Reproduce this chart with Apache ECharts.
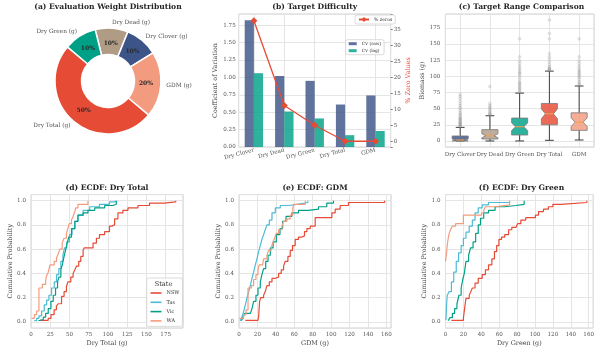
<!DOCTYPE html>
<html>
<head>
<meta charset="utf-8">
<script src="https://cdn.jsdelivr.net/npm/echarts@6/dist/echarts.min.js"></script>
<style>
  html, body { margin: 0; padding: 0; background: #ffffff; }
  #chart { width: 597px; height: 354px; }
</style>
</head>
<body>
<div id="chart"></div>
<script>
const FONT = 'DejaVu Serif';

// ---------- (a) evaluation weights (clockwise from the top) ----------
const weightTargets = ['Dry Dead (g)', 'Dry Clover (g)', 'GDM (g)', 'Dry Total (g)', 'Dry Green (g)'];
const weightValues = [10, 10, 20, 50, 10];
const weightColors = ['#B09C85', '#3C5488', '#F39B7F', '#E64B35', '#00A087'];

// ---------- (b) target difficulty ----------
const targetNames = ['Dry Clover', 'Dry Dead', 'Dry Green', 'Dry Total', 'GDM'];
const cvRaw = [1.82, 1.02, 0.95, 0.61, 0.74];
const cvLog = [1.06, 0.51, 0.41, 0.17, 0.23];
const pctZeros = [37.7, 11.2, 5.0, 0.0, 0.0];

// ---------- (c) target ranges (notched box summaries) ----------
const boxColors = ['#3C5488', '#B09C85', '#00A087', '#E64B35', '#F39B7F'];
const whiskerLow = [0, 0, 0, 1, 1.5];
const quartile1 = [0, 3, 9.2, 25, 16.4];
const medians = [1.5, 8, 22, 42, 29];
const quartile3 = [7.7, 17.5, 35.4, 58, 43.5];
const whiskerHigh = [21, 39, 74, 108, 85];
const notchHalf = [1.5, 3, 5.8, 7.6, 6.8];
const outClover = [22, 23, 24, 25, 26, 27, 28, 29, 30, 31, 33, 34, 35, 36, 38, 40, 42, 44, 47, 50, 52, 55, 58, 62, 66, 69, 72];
const outDead = [40, 41, 42, 43, 45, 47, 49, 51, 53, 55, 58, 84];
const outGreen = [76, 78, 80, 82, 84, 86, 88, 90, 92, 96, 100, 103, 105, 107, 110, 113, 116, 120, 124, 130, 158];
const outTotal = [109, 110, 111, 112, 113, 115, 118, 122, 126, 130, 135, 158, 166, 187];
const outGdm = [86, 88, 90, 92, 95, 98, 100, 102, 104, 106, 108, 110, 113, 116, 120, 124, 130, 158];

// ---------- (d-f) ECDF step points per state: [value, cumulative probability] ----------
const stateNames = ['NSW', 'Tas', 'Vic', 'WA'];
const stateColors = ['#E64B35', '#4DBBD5', '#00A087', '#F39B7F'];

const totalNSW = [[11.6,0.013],[22.4,0.03],[26,0.06],[30,0.1],[33,0.13],[35.3,0.15],[39.7,0.21],[43,0.25],[46,0.29],[48,0.33],[51.7,0.37],[54.7,0.4],[57,0.43],[59,0.46],[62,0.5],[64.7,0.54],[67.7,0.59],[69,0.61],[80.6,0.65],[85,0.69],[89,0.72],[95.7,0.745],[102,0.79],[105,0.8],[108.6,0.85],[113,0.9],[119.4,0.92],[126,0.94],[139,0.96],[154,0.98],[173,0.99],[188,1.0]];
const totalTas = [[4.3,0.01],[7.3,0.03],[10.3,0.05],[13.8,0.09],[17.2,0.14],[20.3,0.18],[23.3,0.22],[26.7,0.28],[30.2,0.33],[33.2,0.39],[36.2,0.44],[38.8,0.5],[41.5,0.55],[43.5,0.61],[46.5,0.66],[50,0.72],[53.4,0.77],[57,0.83],[61,0.88],[67.7,0.92],[76.3,0.95],[89,0.97],[102,0.99],[109.5,1.0]];
const totalVic = [[9.5,0.01],[11.6,0.02],[16,0.04],[19,0.07],[22.4,0.11],[25.9,0.17],[28.9,0.22],[31.9,0.28],[34.5,0.33],[36.2,0.37],[38.8,0.43],[41,0.48],[43,0.54],[44.8,0.59],[47,0.65],[49,0.7],[52.6,0.77],[57,0.83],[61,0.88],[67.7,0.9],[74,0.92],[82.8,0.94],[95.7,0.96],[106.5,0.97],[110.8,1.0]];
const totalWA = [[0.9,0.03],[4.3,0.06],[7.3,0.09],[10.3,0.28],[14.7,0.31],[19,0.34],[20.3,0.38],[22.4,0.41],[24.6,0.47],[30.2,0.5],[33.2,0.53],[35.3,0.56],[37.5,0.6],[40.5,0.65],[43,0.69],[46,0.73],[48.3,0.78],[49.6,0.81],[52.6,0.84],[54.7,0.87],[57,0.91],[58,0.94],[61,0.97],[74,1.0]];

const gdmNSW = [[6.9,0.013],[20.6,0.025],[21.3,0.045],[22.4,0.17],[23.5,0.2],[26.7,0.22],[28.5,0.25],[30.3,0.3],[32.9,0.33],[35.8,0.36],[39.4,0.37],[43,0.4],[45.9,0.43],[48.4,0.46],[50.2,0.5],[53.1,0.54],[55.6,0.59],[58.1,0.63],[61,0.68],[64.6,0.7],[68.3,0.71],[71.1,0.745],[73.7,0.77],[77.3,0.79],[82.7,0.86],[100.8,0.9],[104.4,0.93],[109.8,0.96],[118.8,0.985],[158,1.0]];
const gdmTas = [[1.4,0.01],[3.2,0.04],[5,0.085],[6.9,0.14],[8.7,0.2],[10.5,0.25],[12.3,0.3],[14.1,0.36],[15.9,0.41],[17.7,0.47],[19.5,0.52],[21.3,0.58],[23.1,0.63],[24.9,0.68],[26.7,0.72],[28.5,0.76],[30.3,0.8],[32.9,0.84],[35.8,0.9],[39.4,0.94],[44.8,0.96],[53.8,0.97],[62.8,0.985],[74.8,1.0]];
const gdmVic = [[2.5,0.01],[4,0.03],[6.1,0.07],[12.3,0.085],[14.1,0.11],[15.9,0.17],[18.4,0.22],[20.6,0.28],[23.1,0.33],[24.9,0.39],[26.7,0.44],[29,0.5],[31.5,0.55],[34,0.61],[37,0.66],[40.5,0.72],[44.5,0.77],[47.3,0.83],[51,0.87],[57.4,0.9],[64.6,0.92],[75.5,0.93],[86.3,0.95],[95.3,0.98],[102.6,1.0]];
const gdmWA = [[0.4,0.03],[5,0.06],[7.6,0.1],[9.8,0.28],[13.4,0.3],[15.9,0.35],[18.4,0.39],[20.6,0.43],[22,0.47],[25.6,0.48],[26.7,0.52],[30.3,0.55],[32.1,0.59],[35,0.61],[36.5,0.65],[38.6,0.69],[40.4,0.73],[43,0.76],[46.6,0.79],[48.4,0.83],[52,0.85],[55.6,0.88],[58.5,0.94],[59.2,0.97],[72,1.0]];

const greenNSW = [[6.6,0.013],[20,0.03],[21.5,0.12],[22.9,0.195],[26.5,0.22],[28.3,0.25],[30,0.28],[33,0.32],[36.6,0.36],[41,0.39],[44.6,0.43],[48.1,0.47],[51.8,0.52],[54.7,0.58],[57.2,0.63],[59.7,0.68],[62.6,0.7],[66.2,0.72],[70.5,0.76],[74.1,0.78],[78.8,0.79],[80.6,0.81],[84.2,0.84],[89.7,0.86],[100.5,0.88],[104,0.91],[109.5,0.93],[115,0.95],[120,0.97],[129.3,0.985],[158,1.0]];
const greenTas = [[0.5,0.015],[1.2,0.14],[1.9,0.22],[4.1,0.25],[6.6,0.33],[9.2,0.41],[12,0.5],[14.6,0.57],[17.5,0.63],[20,0.69],[22.9,0.74],[26.5,0.79],[30,0.84],[33,0.9],[36.6,0.94],[41,0.965],[48,0.985],[71.6,1.0]];
const greenVic = [[3,0.01],[4.8,0.035],[7.7,0.07],[10.2,0.11],[12.8,0.15],[15,0.22],[17.5,0.28],[19.3,0.35],[21,0.4],[22.9,0.5],[25.8,0.55],[28,0.61],[30.8,0.66],[33.7,0.73],[36.6,0.8],[39.1,0.855],[42.7,0.9],[48.1,0.92],[55.4,0.95],[66.2,0.96],[78.8,0.97],[87.9,1.0]];
const greenWA = [[0,0.5],[1.2,0.57],[1.9,0.63],[3,0.69],[4.1,0.73],[5.6,0.76],[7.7,0.79],[11.3,0.81],[20,0.88],[40.2,0.9],[42.7,0.92],[44.6,0.95],[55.4,0.965],[71.6,1.0]];

const ecdfPanels = [
  { grid: 2, series: [totalNSW, totalTas, totalVic, totalWA] },
  { grid: 3, series: [gdmNSW, gdmTas, gdmVic, gdmWA] },
  { grid: 4, series: [greenNSW, greenTas, greenVic, greenWA] }
];

// ---------- shared styles ----------
const tickText = { fontFamily: FONT, fontSize: 5.6, color: '#555' };
const nameText = { fontFamily: FONT, fontSize: 6.4, color: '#444' };
const gridLines = { show: true, lineStyle: { color: '#e2e2e2', width: 0.9 } };
const frame = { show: true, borderColor: '#d0d0d0', borderWidth: 1, backgroundColor: '#ffffff' };

function stepLabel(step, digits) {
  return v => Math.abs(v / step - Math.round(v / step)) < 1e-6 ? v.toFixed(digits) : '';
}
function categoryLabel(v) {
  const i = Math.round(v);
  return Math.abs(v - i) < 1e-6 && targetNames[i] ? targetNames[i] : '';
}

function title(text, x, y) {
  return {
    text, left: x, top: y, textAlign: 'center', padding: 0,
    textStyle: { fontFamily: FONT, fontSize: 7.6, fontWeight: 'bold', color: '#262626' }
  };
}

// ---------- axes ----------
const xAxes = [
  { gridIndex: 0, type: 'value', min: -0.5, max: 4.5, minInterval: 1, maxInterval: 1,
    axisLine: { show: false }, axisTick: { show: false }, splitLine: gridLines,
    axisLabel: Object.assign({ formatter: categoryLabel, rotate: 15, margin: 3 }, tickText) },
  { gridIndex: 1, type: 'value', min: -0.5, max: 4.5, minInterval: 1, maxInterval: 1,
    axisLine: { show: false }, axisTick: { show: false }, splitLine: gridLines,
    axisLabel: Object.assign({ formatter: categoryLabel, margin: 5 }, tickText) },
  { gridIndex: 2, type: 'value', min: 0, max: 197.5, interval: 25,
    axisLine: { show: false }, axisTick: { show: false }, splitLine: gridLines,
    axisLabel: Object.assign({ formatter: stepLabel(25, 0), margin: 4 }, tickText),
    name: 'Dry Total (g)', nameLocation: 'middle', nameGap: 12, nameTextStyle: nameText },
  { gridIndex: 3, type: 'value', min: 0, max: 165, interval: 20,
    axisLine: { show: false }, axisTick: { show: false }, splitLine: gridLines,
    axisLabel: Object.assign({ formatter: stepLabel(20, 0), margin: 4 }, tickText),
    name: 'GDM (g)', nameLocation: 'middle', nameGap: 12, nameTextStyle: nameText },
  { gridIndex: 4, type: 'value', min: 0, max: 165, interval: 20,
    axisLine: { show: false }, axisTick: { show: false }, splitLine: gridLines,
    axisLabel: Object.assign({ formatter: stepLabel(20, 0), margin: 4 }, tickText),
    name: 'Dry Green (g)', nameLocation: 'middle', nameGap: 12, nameTextStyle: nameText }
];

function ecdfY(gridIndex, gap) {
  return { gridIndex, type: 'value', min: -0.05, max: 1.05, minInterval: 0.2, maxInterval: 0.2,
    axisLine: { show: false }, axisTick: { show: false }, splitLine: gridLines,
    axisLabel: Object.assign({ formatter: stepLabel(0.2, 1), margin: 5 }, tickText),
    name: 'Cumulative Probability', nameLocation: 'middle', nameRotate: 90, nameGap: gap, nameTextStyle: nameText };
}

const yAxes = [
  { gridIndex: 0, type: 'value', min: 0, max: 1.91, interval: 0.25,
    axisLine: { show: false }, axisTick: { show: false }, splitLine: gridLines,
    axisLabel: Object.assign({ formatter: stepLabel(0.25, 2), margin: 3 }, tickText),
    name: 'Coefficient of Variation', nameLocation: 'middle', nameRotate: 90, nameGap: 20, nameTextStyle: nameText },
  { gridIndex: 0, type: 'value', position: 'right', min: -1.8, max: 39.8, minInterval: 5, maxInterval: 5,
    axisLine: { show: false }, axisTick: { show: true, length: 2, lineStyle: { color: '#555', width: 0.8 } },
    splitLine: { show: false },
    axisLabel: Object.assign({ formatter: stepLabel(5, 0), margin: 3 }, tickText),
    name: '% Zero Values', nameLocation: 'middle', nameRotate: 90, nameGap: 15,
    nameTextStyle: Object.assign({}, nameText, { color: '#E64B35' }) },
  { gridIndex: 1, type: 'value', min: -9.35, max: 196.35, minInterval: 25, maxInterval: 25,
    axisLine: { show: false }, axisTick: { show: false }, splitLine: gridLines,
    axisLabel: Object.assign({ formatter: stepLabel(25, 0), margin: 5 }, tickText),
    name: 'Biomass (g)', nameLocation: 'middle', nameRotate: 90, nameGap: 18, nameTextStyle: nameText },
  ecdfY(2, 16),
  ecdfY(3, 17),
  ecdfY(4, 17)
];

// ---------- series ----------
const series = [];

// (a) donut and its percentage labels
series.push({
  type: 'pie', center: [108, 81], radius: [26.5, 53], startAngle: 104, clockwise: true,
  avoidLabelOverlap: false, silent: true,
  itemStyle: { borderColor: '#ffffff', borderWidth: 1.5 },
  label: { show: true, position: 'outside', formatter: '{b}', distanceToLabelLine: 0,
           fontFamily: FONT, fontSize: 5.8, color: '#555' },
  labelLine: { show: false, length: 5.5, length2: 0 },
  data: weightTargets.map((n, i) => ({ name: n, value: weightValues[i], itemStyle: { color: weightColors[i] } }))
});
series.push({
  type: 'pie', center: [108, 81], radius: [17, 53], startAngle: 104, clockwise: true,
  avoidLabelOverlap: false, silent: true,
  itemStyle: { color: 'rgba(0,0,0,0)', borderWidth: 0 },
  label: { show: true, position: 'inside', formatter: p => Math.round(p.percent) + '%',
           fontFamily: FONT, fontSize: 6, fontWeight: 'bold', color: '#2a2a2a' },
  labelLine: { show: false },
  data: weightTargets.map((n, i) => ({ name: n + ' pct', value: weightValues[i] }))
});

// (b) CV bars and zero-share line
series.push({
  type: 'bar', name: 'CV (raw)', xAxisIndex: 0, yAxisIndex: 0, barWidth: 9.2, barGap: '0%',
  itemStyle: { color: 'rgba(60,84,136,0.82)' },
  data: cvRaw.map((v, i) => [i, v])
});
series.push({
  type: 'bar', name: 'CV (log)', xAxisIndex: 0, yAxisIndex: 0, barWidth: 9.2, barGap: '0%',
  itemStyle: { color: 'rgba(0,160,135,0.82)' },
  data: cvLog.map((v, i) => [i, v])
});
series.push({
  type: 'line', name: '% zeros', xAxisIndex: 0, yAxisIndex: 1, z: 5,
  symbol: 'diamond', symbolSize: 7,
  lineStyle: { color: '#E64B35', width: 1.3 }, itemStyle: { color: '#E64B35' },
  data: pctZeros.map((v, i) => [i, v])
});

// (c) notched boxes
series.push({
  type: 'custom', xAxisIndex: 1, yAxisIndex: 2, z: 3, silent: true,
  data: targetNames.map((_, i) => [i, whiskerLow[i], quartile1[i], medians[i], quartile3[i], whiskerHigh[i], notchHalf[i]]),
  renderItem: (params, api) => {
    const i = api.value(0);
    const lo = api.value(1), q1 = api.value(2), med = api.value(3), q3 = api.value(4), hi = api.value(5), nh = api.value(6);
    const x = api.coord([i, med])[0];
    const y = v => api.coord([i, v])[1];
    const half = api.size([1, 0])[0] * 0.27;
    const nLo = Math.max(q1, med - nh), nHi = Math.min(q3, med + nh);
    const cap = half * 0.55;
    const edge = { stroke: '#3d3d3d', lineWidth: 1 };
    return {
      type: 'group',
      children: [
        { type: 'line', shape: { x1: x, y1: y(q3), x2: x, y2: y(hi) }, style: edge },
        { type: 'line', shape: { x1: x, y1: y(q1), x2: x, y2: y(lo) }, style: edge },
        { type: 'line', shape: { x1: x - cap, y1: y(hi), x2: x + cap, y2: y(hi) }, style: edge },
        { type: 'line', shape: { x1: x - cap, y1: y(lo), x2: x + cap, y2: y(lo) }, style: edge },
        { type: 'polygon',
          shape: { points: [
            [x - half, y(q1)], [x - half, y(nLo)], [x - half / 2, y(med)], [x - half, y(nHi)], [x - half, y(q3)],
            [x + half, y(q3)], [x + half, y(nHi)], [x + half / 2, y(med)], [x + half, y(nLo)], [x + half, y(q1)]
          ] },
          style: { fill: boxColors[i], opacity: 0.82, stroke: '#7a7a7a', lineWidth: 1 } },
        { type: 'line', shape: { x1: x - half / 2, y1: y(med), x2: x + half / 2, y2: y(med) },
          style: { stroke: '#F5A04A', lineWidth: 1.1 } }
      ]
    };
  }
});
const outlierSets = [outClover, outDead, outGreen, outTotal, outGdm];
series.push({
  type: 'scatter', xAxisIndex: 1, yAxisIndex: 2, z: 4, silent: true,
  symbol: 'circle', symbolSize: 2.6,
  itemStyle: { color: 'rgba(200,200,200,0.25)', borderColor: 'rgba(120,120,120,0.45)', borderWidth: 0.6 },
  data: outlierSets.flatMap((set, i) => set.map(v => [i, v]))
});

// (d-f) ECDF step lines
ecdfPanels.forEach(panel => {
  panel.series.forEach((pts, k) => {
    series.push({
      type: 'line', name: stateNames[k], xAxisIndex: panel.grid, yAxisIndex: panel.grid + 1,
      step: 'end', symbol: 'none', silent: true,
      lineStyle: { color: stateColors[k], width: 1.2 }, itemStyle: { color: stateColors[k] },
      data: pts
    });
  });
});

const option = {
  animation: false,
  backgroundColor: '#ffffff',
  textStyle: { fontFamily: FONT },
  title: [
    title('(a) Evaluation Weight Distribution', 108, 3.5),
    title('(b) Target Difficulty', 314.7, 3.5),
    title('(c) Target Range Comparison', 521.5, 3.5),
    title('(d) ECDF: Dry Total', 107, 184),
    title('(e) ECDF: GDM', 315, 184),
    title('(f) ECDF: Dry Green', 521.5, 184)
  ],
  grid: [
    Object.assign({ left: 238.7, top: 14, width: 152, height: 133 }, frame),
    Object.assign({ left: 445.3, top: 14, width: 152, height: 133 }, frame),
    Object.assign({ left: 31, top: 194.6, width: 152, height: 133.4 }, frame),
    Object.assign({ left: 239, top: 194.6, width: 152, height: 133.4 }, frame),
    Object.assign({ left: 445.5, top: 194.6, width: 152, height: 133.4 }, frame)
  ],
  xAxis: xAxes,
  yAxis: yAxes,
  legend: [
    { data: ['% zeros'], left: 355, top: 15, orient: 'horizontal', padding: [2, 3, 2, 3],
      itemWidth: 10, itemHeight: 6, selectedMode: false,
      backgroundColor: 'rgba(255,255,255,0.85)', borderColor: '#cccccc', borderWidth: 0.7, borderRadius: 2,
      textStyle: { fontFamily: FONT, fontSize: 4.6, color: '#333' } },
    { data: ['CV (raw)', 'CV (log)'], left: 345.7, top: 39.7, orient: 'vertical', padding: [2, 3, 2, 3],
      itemWidth: 8, itemHeight: 3, itemGap: 3, icon: 'rect', selectedMode: false,
      backgroundColor: 'rgba(255,255,255,0.85)', borderColor: '#cccccc', borderWidth: 0.7, borderRadius: 2,
      textStyle: { fontFamily: FONT, fontSize: 4.3, color: '#333' } },
    { data: stateNames, left: 146.7, top: 278, orient: 'vertical', padding: [12.5, 3, 3, 3],
      itemWidth: 11, itemHeight: 5, itemGap: 4.3, selectedMode: false,
      itemStyle: { opacity: 0 }, lineStyle: { width: 1.6 },
      backgroundColor: 'rgba(255,255,255,0.85)', borderColor: '#cccccc', borderWidth: 0.7, borderRadius: 2,
      textStyle: { fontFamily: FONT, fontSize: 5, color: '#333' } }
  ],
  graphic: [
    { type: 'text', x: 163.5, y: 284.5, z: 100,
      style: { text: 'State', font: '6.6px "DejaVu Serif"', fill: '#333', align: 'center', verticalAlign: 'middle',
               textAlign: 'center', textVerticalAlign: 'middle' } }
  ],
  series
};

const chart = echarts.init(document.getElementById('chart'));
chart.setOption(option);
</script>
</body>
</html>
